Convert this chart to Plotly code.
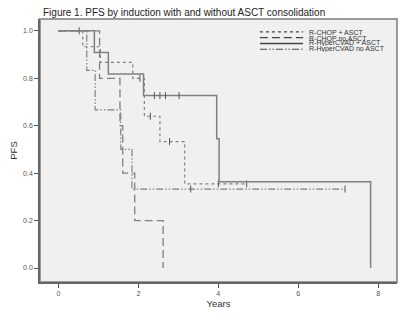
import plotly.graph_objects as go

# ---- data ----
title_text = "Figure 1. PFS by induction with and without ASCT consolidation"
series_names = ["R-CHOP + ASCT", "R-CHOP no ASCT", "R-HyperCVAD + ASCT", "R-HyperCVAD no ASCT"]

rchop_asct_t = [0, 0.61, 1.05, 1.86, 2.15, 2.54, 3.16, 4.71]
rchop_asct_s = [1.0, 0.933, 0.867, 0.8, 0.64, 0.533, 0.355, 0.355]
rchop_asct_ct = [2.04, 2.3, 2.78, 4.0, 4.71]
rchop_asct_cs = [0.8, 0.64, 0.533, 0.355, 0.355]

rchop_no_t = [0, 1.03, 1.54, 1.61, 1.91, 2.62]
rchop_no_s = [1.0, 0.8, 0.6, 0.4, 0.2, 0.0]
rchop_no_ct = []
rchop_no_cs = []

hcvad_asct_t = [0, 0.9, 1.25, 2.13, 3.96, 4.02, 7.81]
hcvad_asct_s = [1.0, 0.909, 0.818, 0.727, 0.545, 0.364, 0.0]
hcvad_asct_ct = [0.52, 2.4, 2.54, 2.68, 3.02]
hcvad_asct_cs = [1.0, 0.727, 0.727, 0.727, 0.727]

hcvad_no_t = [0, 0.71, 0.92, 1.56, 1.84, 7.17]
hcvad_no_s = [1.0, 0.833, 0.667, 0.5, 0.333, 0.333]
hcvad_no_ct = [3.31, 7.17]
hcvad_no_cs = [0.333, 0.333]

x_ticks = [0, 2, 4, 6, 8]
y_ticks = [0.0, 0.2, 0.4, 0.6, 0.8, 1.0]
y_tick_labels = ["0.0", "0.2", "0.4", "0.6", "0.8", "1.0"]

# ---- styles ----
dashes = ["dot", "8px,4px", "solid", "7px,2px,1.5px,2px,1.5px,2px"]
widths = [1.2, 1.3, 1.5, 1.2]
line_color = "#808080"

curves = [
    (rchop_asct_t, rchop_asct_s, rchop_asct_ct, rchop_asct_cs),
    (rchop_no_t, rchop_no_s, rchop_no_ct, rchop_no_cs),
    (hcvad_asct_t, hcvad_asct_s, hcvad_asct_ct, hcvad_asct_cs),
    (hcvad_no_t, hcvad_no_s, hcvad_no_ct, hcvad_no_cs),
]

fig = go.Figure()
for name, (t, s, ct, cs), d, w in zip(series_names, curves, dashes, widths):
    fig.add_trace(go.Scatter(x=t, y=s, mode="lines", line=dict(shape="hv", dash=d, width=w, color=line_color),
                             name=name, showlegend=False))
    if ct:
        fig.add_trace(go.Scatter(x=ct, y=cs, mode="markers",
                                 marker=dict(symbol="line-ns", size=5, line=dict(width=1, color="#555555")),
                                 showlegend=False, hoverinfo="skip"))

# ---- manual legend (paper coordinates) ----
leg_x0, leg_x1, leg_tx = 0.616, 0.737, 0.751
leg_rows = [0.951, 0.929, 0.907, 0.885]
for name, d, w, yy in zip(series_names, dashes, widths, leg_rows):
    fig.add_trace(go.Scatter(x=[leg_x0, leg_x1], y=[yy, yy], xaxis="x2", yaxis="y2", mode="lines",
                             line=dict(dash=d, width=w, color="#444444"), showlegend=False, hoverinfo="skip"))
    fig.add_annotation(x=leg_tx, y=yy, xref="paper", yref="paper", text=name, showarrow=False,
                       xanchor="left", yanchor="middle", borderpad=0, height=6,
                       font=dict(size=7, color="#333333", family="Liberation Sans"))

# title as annotation sitting just above the plot frame
fig.add_annotation(x=0.005, y=1.0, xref="paper", yref="paper", text=title_text, showarrow=False,
                   xanchor="left", yanchor="bottom", borderpad=0, yshift=0,
                   font=dict(size=10, color="#222222", family="Liberation Sans"))

# frame (top / right lighter border)
fig.add_shape(type="rect", xref="paper", yref="paper", x0=0, x1=1, y0=0, y1=1,
              line=dict(color="#9a9a9a", width=2), layer="below")

# the page adds an 8px body margin, so the figure is laid out 8px smaller / shifted
W, H = 399, 309
fig.update_layout(
    width=W, height=H,
    margin=dict(l=32, r=10, t=11, b=35),
    paper_bgcolor="white", plot_bgcolor="#f0f0f0",
    font=dict(family="Liberation Sans", color="#555555"),
    xaxis=dict(range=[-0.46, 8.47], tickvals=x_ticks, ticks="outside", ticklen=4, tickcolor="#555555",
               showgrid=False, zeroline=False, showline=True, linecolor="#666666", linewidth=1.5,
               tickfont=dict(size=7, color="#555555"), automargin=False,
               title=dict(text="Years", standoff=4, font=dict(size=9.5, color="#333333"))),
    yaxis=dict(range=[-0.059, 1.05], tickvals=y_ticks, ticktext=y_tick_labels, ticks="outside", ticklen=4,
               tickcolor="#555555", showgrid=False, zeroline=False, showline=True, linecolor="#666666",
               linewidth=1.5, tickfont=dict(size=7, color="#555555"), automargin=False,
               title=dict(text="PFS", standoff=8, font=dict(size=9.5, color="#333333"))),
    xaxis2=dict(range=[0, 1], overlaying="x", visible=False),
    yaxis2=dict(range=[0, 1], overlaying="y", visible=False),
)

fig.write_html("out.html")
